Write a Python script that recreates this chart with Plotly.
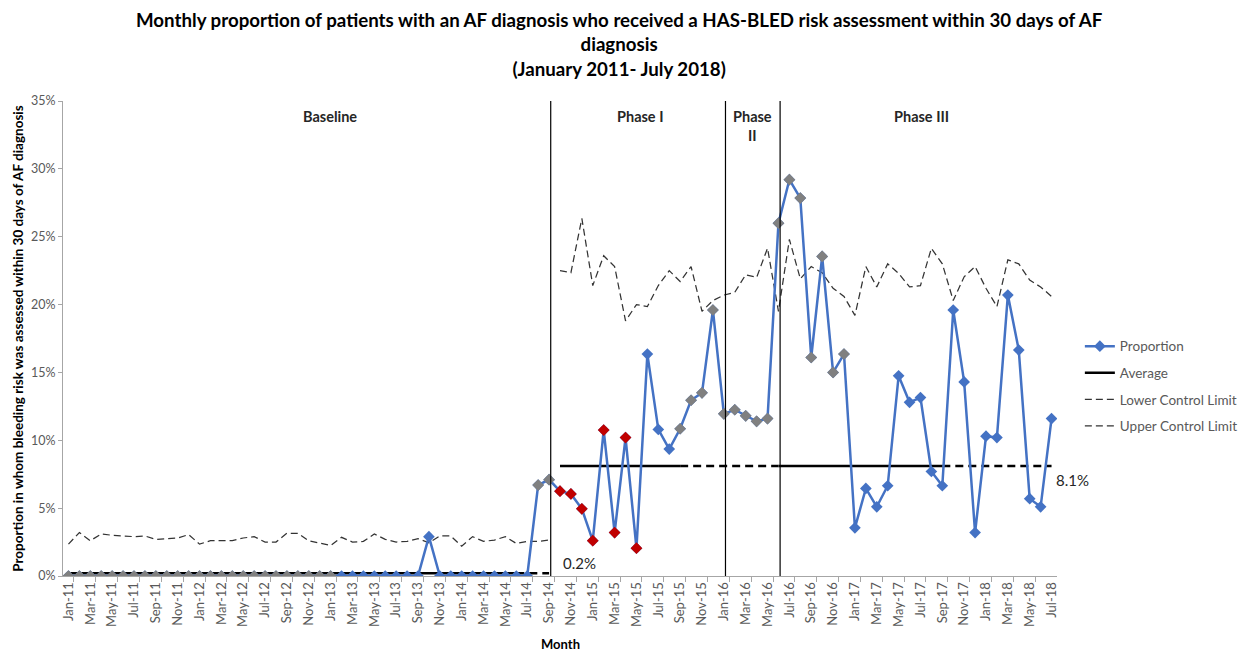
import plotly.graph_objects as go

months = [
    "Jan-11", "Feb-11", "Mar-11", "Apr-11", "May-11", "Jun-11", "Jul-11", "Aug-11", "Sep-11", "Oct-11", "Nov-11", "Dec-11",
    "Jan-12", "Feb-12", "Mar-12", "Apr-12", "May-12", "Jun-12", "Jul-12", "Aug-12", "Sep-12", "Oct-12", "Nov-12", "Dec-12",
    "Jan-13", "Feb-13", "Mar-13", "Apr-13", "May-13", "Jun-13", "Jul-13", "Aug-13", "Sep-13", "Oct-13", "Nov-13", "Dec-13",
    "Jan-14", "Feb-14", "Mar-14", "Apr-14", "May-14", "Jun-14", "Jul-14", "Aug-14", "Sep-14", "Oct-14", "Nov-14", "Dec-14",
    "Jan-15", "Feb-15", "Mar-15", "Apr-15", "May-15", "Jun-15", "Jul-15", "Aug-15", "Sep-15", "Oct-15", "Nov-15", "Dec-15",
    "Jan-16", "Feb-16", "Mar-16", "Apr-16", "May-16", "Jun-16", "Jul-16", "Aug-16", "Sep-16", "Oct-16", "Nov-16", "Dec-16",
    "Jan-17", "Feb-17", "Mar-17", "Apr-17", "May-17", "Jun-17", "Jul-17", "Aug-17", "Sep-17", "Oct-17", "Nov-17", "Dec-17",
    "Jan-18", "Feb-18", "Mar-18", "Apr-18", "May-18", "Jun-18", "Jul-18",
]

# Monthly proportion (%)
proportion = [
    0, 0, 0, 0, 0, 0, 0, 0, 0, 0, 0, 0,
    0, 0, 0, 0, 0, 0, 0, 0, 0, 0, 0, 0,
    0, 0, 0, 0, 0, 0, 0, 0, 0, 2.9, 0, 0,
    0, 0, 0, 0, 0, 0, 0, 6.7, 7.1, 6.25, 6.05, 4.95,
    2.6, 10.75, 3.2, 10.2, 2.05, 16.35, 10.8, 9.35, 10.85, 12.95, 13.5, 19.6,
    11.95, 12.25, 11.8, 11.4, 11.6, 26.0, 29.2, 27.85, 16.1, 23.55, 15.0, 16.35,
    3.55, 6.45, 5.1, 6.65, 14.75, 12.8, 13.15, 7.7, 6.65, 19.6, 14.3, 3.2,
    10.3, 10.2, 20.7, 16.65, 5.7, 5.1, 11.6,
]

# Marker signal per month: b = normal, g = run/trend, r = below-centre shift
signal = list(
    "ggggggggggggggggggggggggg"
    "bbbbbbbbbbbbbbbbbb"
    "gg"
    "rrrrrrrr"
    "bbb"
    "gggggggggggggggg"
    "bbbbbbbbbbbbbbbbbbb"
)

# Upper control limit (%), baseline period Jan-11 .. Sep-14
ucl_baseline = [
    2.35, 3.2, 2.6, 3.1, 3.0, 2.95, 2.9, 2.95, 2.7, 2.75, 2.8, 3.05,
    2.35, 2.6, 2.6, 2.6, 2.8, 2.9, 2.5, 2.5, 3.15, 3.15, 2.6, 2.45,
    2.25, 2.85, 2.5, 2.55, 3.1, 2.7, 2.5, 2.55, 2.75, 2.45, 2.95, 2.95,
    2.2, 2.9, 2.55, 2.65, 2.9, 2.4, 2.55, 2.55, 2.65,
]
# Upper control limit (%), intervention period Oct-14 .. Jul-18
ucl_intervention = [
    22.5, 22.35, 26.35, 21.4, 23.6, 22.8, 18.8, 20.0, 19.85, 21.4, 22.5, 21.7,
    22.8, 19.5, 20.3, 20.7, 20.9, 22.2, 22.0, 24.15, 19.5, 24.8, 21.9, 22.8,
    22.35, 21.2, 20.6, 19.2, 22.8, 21.3, 23.0, 22.3, 21.3, 21.4, 24.15, 23.0,
    20.3, 22.05, 22.8, 21.2, 19.85, 23.3, 23.0, 21.8, 21.3, 20.6,
]

# Centre lines (%): solid and dashed (extension) month ranges
avg_baseline = 0.2
avg_intervention = 8.1
avg_solid_ranges = [("Jan-11", "Jun-14"), ("Oct-14", "Sep-15"), ("Jun-16", "Sep-17")]
avg_dashed_ranges = [("Jun-14", "Sep-14"), ("Sep-15", "Jun-16"), ("Sep-17", "Jul-18")]

# Phase boundaries and labels
phase_starts = ["Sep-14", "Jan-16", "Jun-16"]
phase_labels = ["Baseline", "Phase I", "Phase<br>II", "Phase III"]
phase_label_pos = [23.9, 52.3, 62.6, 78.1]

x = list(range(len(months)))
idx = {m: i for i, m in enumerate(months)}

BLUE = "#4472C4"
GREY = "#808080"
RED = "#C00000"
TXT = "#595959"
FONT = "Lato"


def centre_value(i):
    return avg_baseline if i <= idx["Sep-14"] else avg_intervention


def build(ranges):
    ys = [None] * len(months)
    for a, b in ranges:
        for i in range(idx[a], idx[b] + 1):
            ys[i] = centre_value(i)
    return ys


avg_solid = build(avg_solid_ranges)
avg_dashed = build(avg_dashed_ranges)

fig = go.Figure()

UCL_LINE = dict(color="#333333", width=1.25, dash="7px,4px")

# Upper control limits
ucl_x1 = x[: len(ucl_baseline)]
ucl_x2 = x[idx["Oct-14"]: idx["Oct-14"] + len(ucl_intervention)]
fig.add_trace(go.Scatter(x=ucl_x2, y=ucl_intervention, mode="lines", showlegend=False,
                         line=UCL_LINE, hoverinfo="skip"))
fig.add_trace(go.Scatter(x=ucl_x1, y=ucl_baseline, mode="lines", showlegend=False,
                         line=UCL_LINE, hoverinfo="skip"))

# Average lines
fig.add_trace(go.Scatter(x=x, y=avg_dashed, mode="lines", showlegend=False,
                         line=dict(color="black", width=2.5, dash="8px,5px"), hoverinfo="skip"))
fig.add_trace(go.Scatter(x=x, y=avg_solid, mode="lines", showlegend=False,
                         line=dict(color="black", width=2.5), hoverinfo="skip"))

# Proportion
fig.add_trace(go.Scatter(x=x, y=proportion, mode="lines+markers", name="Proportion",
                         legendgroup="a", legendrank=1,
                         line=dict(color=BLUE, width=2.5),
                         marker=dict(symbol="diamond", size=9, color=BLUE)))
fig.add_trace(go.Scatter(x=x, y=[p if s == "g" else None for p, s in zip(proportion, signal)],
                         mode="markers", showlegend=False,
                         marker=dict(symbol="diamond", size=9, color=GREY)))
fig.add_trace(go.Scatter(x=x, y=[p if s == "r" else None for p, s in zip(proportion, signal)],
                         mode="markers", showlegend=False,
                         marker=dict(symbol="diamond", size=9, color=RED)))

# Legend-only entries
fig.add_trace(go.Scatter(x=[None], y=[None], mode="lines", name="Average", legendgroup="b", legendrank=2,
                         line=dict(color="black", width=2.5)))
fig.add_trace(go.Scatter(x=[None], y=[None], mode="lines", name="Lower Control Limit", legendgroup="c",
                         legendrank=3, line=UCL_LINE))
fig.add_trace(go.Scatter(x=[None], y=[None], mode="lines", name="Upper Control Limit", legendgroup="d",
                         legendrank=4, line=UCL_LINE))

shapes = []
for m in phase_starts:
    shapes.append(dict(type="line", xref="x", yref="y", x0=idx[m] + 0.15, x1=idx[m] + 0.15, y0=0, y1=35,
                       line=dict(color="black", width=1.2)))

annotations = []
for lab, pos in zip(phase_labels, phase_label_pos):
    annotations.append(dict(x=pos, y=34.6, xref="x", yref="y", text="<b>" + lab + "</b>", showarrow=False,
                            yanchor="top", font=dict(family=FONT, size=14.5, color="#262626")))
annotations.append(dict(x=46.8, y=0.96, xref="x", yref="y", text=f"{avg_baseline}%", showarrow=False,
                        font=dict(family=FONT, size=15, color="#262626")))
annotations.append(dict(x=90.2, y=7.07, xref="x", yref="y", text=f"{avg_intervention}%", showarrow=False,
                        xanchor="left", font=dict(family=FONT, size=15, color="#262626")))
annotations.append(dict(x=-0.046, y=0.5, xref="paper", yref="paper", textangle=-90, showarrow=False,
                        xanchor="center", yanchor="middle",
                        text="<b>Proportion in whom bleeding risk was assessed within 30 days of AF diagnosis</b>",
                        font=dict(family=FONT, size=13.5, color="black")))
annotations.append(dict(x=0.5, y=-0.143, xref="paper", yref="paper", showarrow=False, yanchor="middle",
                        text="<b>Month</b>", font=dict(family=FONT, size=13, color="black")))
annotations.append(dict(
    x=0.56, y=1.198, xref="paper", yref="paper", xanchor="center", yanchor="top", showarrow=False,
    text="<b>Monthly proportion of patients with an AF diagnosis who received a HAS-BLED risk assessment within 30 days of AF<br>diagnosis<br>(January 2011- July 2018)</b>",
    font=dict(family=FONT, size=18.7, color="black"),
))

fig.update_layout(
    width=1240, height=651,
    margin=dict(l=63, r=183, t=101, b=75, autoexpand=False),
    paper_bgcolor="white", plot_bgcolor="white",
    font=dict(family=FONT, color=TXT),
    xaxis=dict(
        range=[-0.5, len(months) - 0.5],
        tickmode="array", tickvals=x[::2], ticktext=months[::2], tickangle=-90,
        ticks="", showline=True, linecolor="#A6A6A6", linewidth=1,
        showgrid=False, zeroline=False,
        tickfont=dict(family=FONT, size=13, color=TXT),
        minor=dict(tickmode="array", tickvals=[v - 0.5 for v in x[1::2]], ticks="outside",
                   ticklen=5, tickcolor="#A6A6A6", showgrid=False),
    ),
    yaxis=dict(
        range=[0, 35], dtick=5, ticksuffix="%", ticks="outside", ticklen=4, tickcolor="#A6A6A6",
        showline=True, linecolor="#A6A6A6", linewidth=1, showgrid=False, zeroline=False,
        tickfont=dict(family=FONT, size=12.5, color=TXT),
    ),
    legend=dict(x=1.023, y=0.516, xanchor="left", yanchor="top", tracegroupgap=6,
                font=dict(family=FONT, size=13.5, color=TXT), bgcolor="rgba(0,0,0,0)"),
    shapes=shapes,
    annotations=annotations,
)

fig.write_html("out.html", config={"displayModeBar": False},
               post_script="document.body.style.margin='0';")
